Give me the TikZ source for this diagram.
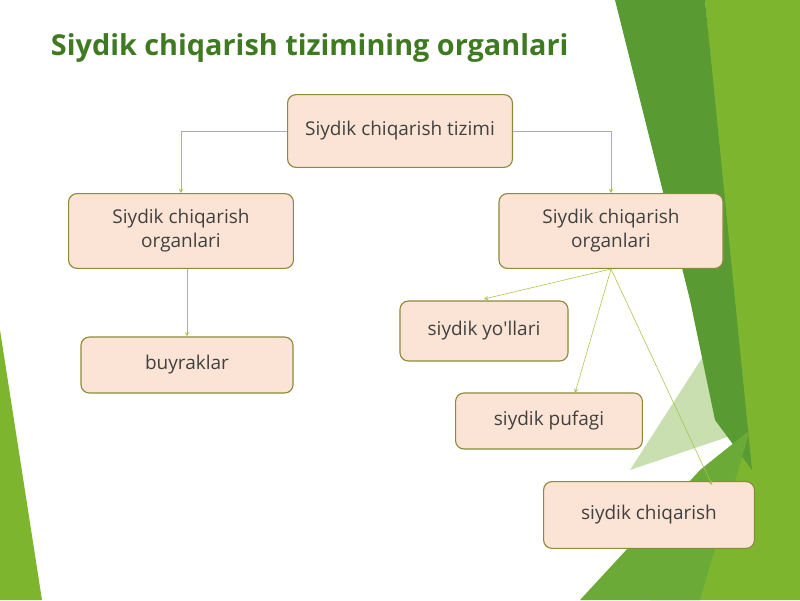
\documentclass[tikz,border=0pt]{standalone}
\usepackage{fontspec}
\setmainfont{Open Sans}
\usepackage{tikz}
\definecolor{leafdark}{HTML}{5A9A32}
\definecolor{leaflight}{HTML}{7DB62E}
\definecolor{leafmid}{HTML}{6CAA38}
\definecolor{leafpale}{HTML}{C9DFB0}
\definecolor{boxfill}{HTML}{FBE4D5}
\definecolor{boxline}{HTML}{8C8A3A}
\definecolor{arrowline}{HTML}{A9C24A}
\definecolor{titlegreen}{HTML}{3F7A22}
\tikzset{
  organbox/.style = {draw = boxline, fill = boxfill, rounded corners = 6pt,
    thick, align = center, font = \fontsize{13.5}{17}\selectfont,
    text = black!75, inner sep = 0pt},
  link/.style = {draw = arrowline, ->, >=stealth, thin}
}
\begin{document}
\begin{tikzpicture}[x = 0.025cm, y = -0.025cm]
            \useasboundingbox (0,0) rectangle (800,600);
            % green background
            \fill [leaflight] (705,0) -- (800,0) -- (800,600) -- (650,600)
            -- (745,440) -- cycle;
            \fill [leafpale] (630,470) -- (720,330) -- (748,430) -- cycle;
            \fill [leafdark] (615,0) -- (705,0) -- (752,470) -- (715,420)
            -- (690,300) -- cycle;
            \fill [leafmid] (580,600) -- (700,470) -- (750,430) -- (700,600)
            -- cycle;
            \fill [leaflight] (0,330) -- (42,600) -- (0,600) -- cycle;

            \node [anchor = west, text = titlegreen,
              font = \fontsize{20.5}{24}\selectfont\bfseries] (title) at (46,48)
              {Siydik chiqarish tizimining organlari};

            \node [organbox, minimum width = 5.62cm, minimum height = 1.82cm]
              (tizim) at (400,131) {Siydik chiqarish tizimi};
            \node [organbox, minimum width = 5.62cm, minimum height = 1.87cm]
              (organL) at (181,231) {Siydik chiqarish\\organlari};
            \node [organbox, minimum width = 5.6cm, minimum height = 1.87cm]
              (organR) at (611,231) {Siydik chiqarish\\organlari};
            \node [organbox, minimum width = 5.3cm, minimum height = 1.4cm]
              (buyrak) at (187,365) {buyraklar};
            \node [organbox, minimum width = 4.2cm, minimum height = 1.5cm]
              (yollar) at (484,331) {siydik yo\textquotesingle llari};
            \node [organbox, minimum width = 4.67cm, minimum height = 1.4cm]
              (pufak) at (549,421) {siydik pufagi};
            \node [organbox, minimum width = 5.27cm, minimum height = 1.67cm]
              (chiqar) at (649,515) {siydik chiqarish};

            \coordinate (endyol) at (484,299);
            \coordinate (endpuf) at (575,393);
            \coordinate (endchi) at (712,485);

            \draw [link] (tizim.west) -| (organL.north);
            \draw [link] (tizim.east) -| (organR.north);
            \draw [link] (organL.south -| buyrak.north) -- (buyrak.north);
            \draw [link] (organR.south) -- (endyol);
            \draw [link] (organR.south) -- (endpuf);
            \draw [link] (organR.south) -- (endchi);
        \end{tikzpicture}
\end{document}
